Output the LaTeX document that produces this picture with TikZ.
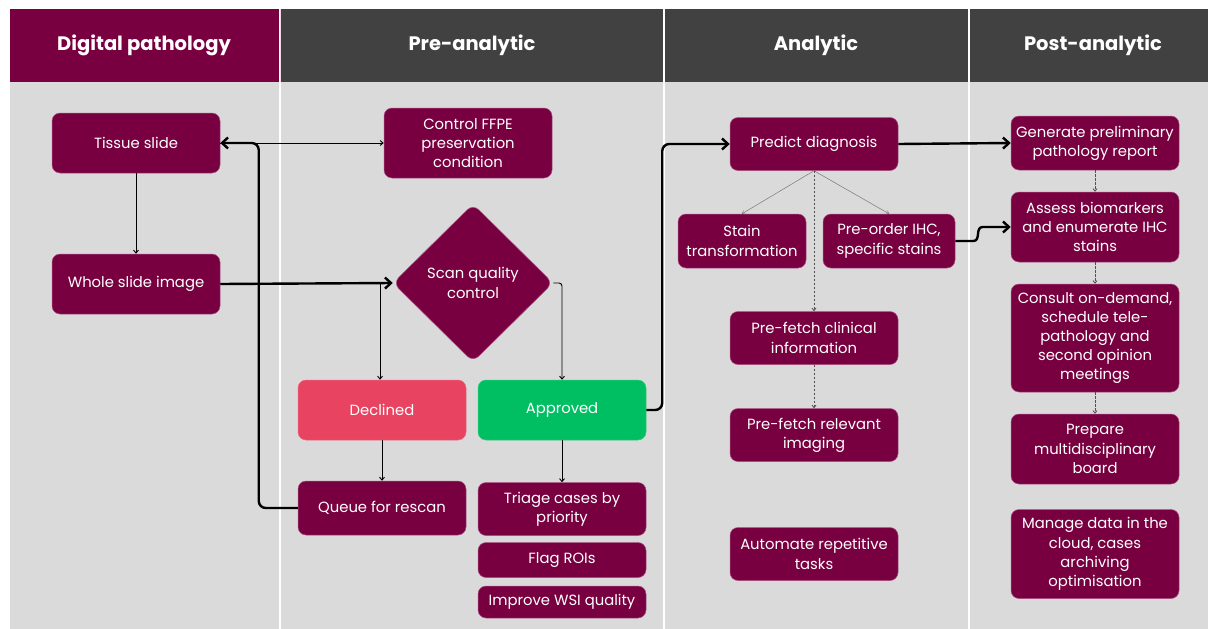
\documentclass[tikz,border=0pt]{standalone}
\usepackage{fontspec}
\setmainfont{Poppins}
\usetikzlibrary{shapes.geometric,arrows.meta,calc}
\definecolor{plum}{RGB}{121,0,64}
\definecolor{plumedge}{RGB}{170,80,130}
\definecolor{hdrgray}{RGB}{65,65,65}
\definecolor{bodygray}{RGB}{218,218,218}
\definecolor{declinedred}{RGB}{232,67,96}
\definecolor{approvedgreen}{RGB}{0,191,99}
\definecolor{thingray}{RGB}{120,120,120}
\definecolor{dashgray}{RGB}{80,80,80}
\begin{document}
\begin{tikzpicture}[x=1pt,y=-1pt,
  stage/.style={rectangle, rounded corners=8pt, fill=plum, draw=plumedge, line width=0.5pt,
    text=white, align=center, inner sep=0pt,
    font=\fontsize{14.8}{19.2}\selectfont},
  head/.style={text=white, font=\fontsize{19.5}{22}\selectfont\bfseries},
  thick flow/.style={line width=2.4pt, rounded corners=7pt, -{Straight Barb[length=6pt,width=11pt,line width=2.4pt]}},
  thin flow/.style={line width=0.9pt, rounded corners=3pt, -{Straight Barb[length=3pt,width=5pt]}},
  branch/.style={line width=0.5pt, draw=thingray, -{Straight Barb[length=2.5pt,width=4pt]}},
  dotted flow/.style={line width=0.8pt, draw=dashgray, dash pattern=on 2.5pt off 1.5pt, -{Straight Barb[length=2.5pt,width=4pt]}},
]
\useasboundingbox (0,0) rectangle (1208,629);
\fill[white] (0,0) rectangle (1208,629);

% lanes and headers
\fill[bodygray] (10,82) rectangle (1208,629);
\fill[plum] (10,9) rectangle (279.5,82);
\fill[hdrgray] (280.5,9) rectangle (1208,82);
\foreach \x in {280,664,969}
  \draw[white, line width=1.6pt] (\x,9) -- (\x,629);
\draw[white!85!plum, line width=0.8pt] (280,9) -- (280,82);

\node[head] (h1) at (144,45) {Digital pathology};
\node[head] (h2) at (472,45) {Pre-analytic};
\node[head] (h3) at (816,45) {Analytic};
\node[head] (h4) at (1093,45) {Post-analytic};

% digital pathology lane
\node[stage, minimum width=168pt, minimum height=60pt] (tissue) at (136,143) {Tissue slide};
\node[stage, minimum width=168pt, minimum height=60pt] (wsi) at (136,284) {Whole slide image};

% pre-analytic lane
\node[stage, minimum width=168pt, minimum height=70pt] (ffpe) at (468,143) {Control FFPE\\preservation\\condition};
\node[diamond, aspect=1, fill=plum, draw=plumedge, line width=0.5pt, rounded corners=8pt,
  minimum width=160pt, minimum height=158pt, inner sep=0pt, text=white, align=center,
  font=\fontsize{14.8}{19.2}\selectfont] (scan) at (473,283) {Scan quality\\control};
\node[stage, fill=declinedred, draw=declinedred!80!white, minimum width=168pt, minimum height=60pt] (declined) at (382,410) {Declined};
\node[stage, fill=approvedgreen, draw=approvedgreen!80!white, minimum width=168pt, minimum height=60pt] (approved) at (562,410) {Approved};
\node[stage, minimum width=168pt, minimum height=54pt] (queue) at (382,508) {Queue for rescan};
\node[stage, minimum width=168pt, minimum height=53pt] (triage) at (562,509) {Triage cases by\\priority};
\node[stage, minimum width=168pt, minimum height=35pt] (flag) at (562,560) {Flag ROIs};
\node[stage, minimum width=168pt, minimum height=32pt] (improve) at (562,602) {Improve WSI quality};

% analytic lane
\node[stage, minimum width=168pt, minimum height=53pt] (predict) at (814,144) {Predict diagnosis};
\node[stage, minimum width=128pt, minimum height=54pt] (stain) at (742,241) {Stain\\transformation};
\node[stage, minimum width=132pt, minimum height=54pt] (ihc) at (889,241) {Pre-order IHC,\\specific stains};
\node[stage, minimum width=168pt, minimum height=53pt] (clinical) at (814,338) {Pre-fetch clinical\\information};
\node[stage, minimum width=168pt, minimum height=53pt] (imaging) at (814,435) {Pre-fetch relevant\\imaging};
\node[stage, minimum width=168pt, minimum height=53pt] (automate) at (814,554) {Automate repetitive\\tasks};

% post-analytic lane
\node[stage, minimum width=168pt, minimum height=54pt] (report) at (1095,143) {Generate preliminary\\pathology report};
\node[stage, minimum width=168pt, minimum height=70pt] (assess) at (1095,227) {Assess biomarkers\\and enumerate IHC\\stains};
\node[stage, minimum width=168pt, minimum height=108pt] (consult) at (1095,338) {Consult on-demand,\\schedule tele-\\pathology and\\second opinion\\meetings};
\node[stage, minimum width=168pt, minimum height=70pt] (board) at (1095,449) {Prepare\\multidisciplinary\\board};
\node[stage, minimum width=168pt, minimum height=89pt] (manage) at (1095,554) {Manage data in the\\cloud, cases\\archiving\\optimisation};

% connectors: digital pathology and pre-analytic
\draw[thin flow] (tissue.south) -- (wsi.north);
\draw[thin flow] (tissue.east) -- (ffpe.west);
\draw[thick flow] (queue.west) -- ++(-39,0) |- (tissue.east);
\draw[thick flow] (wsi.east) -- (scan.west);
\coordinate (split) at (declined.north |- scan.west);
\draw[thin flow] ($(split)+(-2,0)$) -- ($(declined.north)+(-2,0)$);
\draw[thin flow] (scan.east) -| (approved.north);
\draw[thin flow] (declined.south) -- (queue.north);
\draw[thin flow] (approved.south) -- (triage.north);

% connectors: analytic
\draw[thick flow] (approved.east) -- ++(16,0) |- (predict.west);
\draw[branch] (predict.south) -- (stain.north);
\draw[branch] (predict.south) -- (ihc.north);
\draw[dotted flow] (predict.south) -- (clinical.north);
\draw[dotted flow] (clinical.south) -- (imaging.north);

% connectors: post-analytic
\draw[thick flow] (predict.east) -- (report.west);
\draw[thick flow, rounded corners=0pt] (ihc.east) -- ++(18,0)
  .. controls ++(8,0) and ++(-8,0) .. ($(assess.west)+(-28,0)$) -- (assess.west);
\draw[dotted flow] (report.south) -- (assess.north);
\draw[dotted flow] (assess.south) -- (consult.north);
\draw[dotted flow] (consult.south) -- (board.north);
\end{tikzpicture}
\end{document}
